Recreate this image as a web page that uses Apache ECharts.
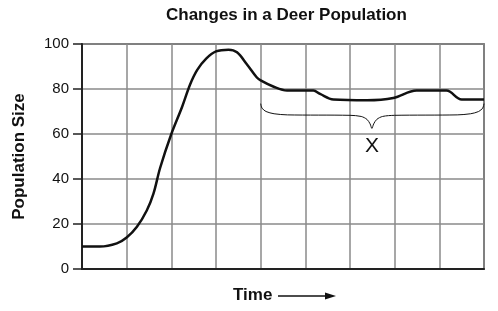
<!DOCTYPE html>
<html><head><meta charset="utf-8">
<script src="https://cdn.jsdelivr.net/npm/echarts@6/dist/echarts.min.js"></script>
<style>html,body{margin:0;padding:0;background:#fff}#c{width:498px;height:311px}</style>
</head><body><div id="c"></div>
<script>
// Time (grid columns) vs population size
const timeValues = [0, 0.4, 0.78, 1.0, 1.23, 1.45, 1.6, 1.75, 2.0, 2.24, 2.42, 2.58, 2.78, 3.0, 3.28, 3.47, 3.69, 3.91, 4.0, 4.28, 4.59, 5.18, 5.33, 5.63, 6.38, 6.97, 7.49, 8.16, 8.5, 9.0];
const populationValues = [10, 10, 11.4, 14, 18.8, 26, 33.5, 45, 60, 72, 82, 88.5, 93.5, 96.7, 97.5, 96.3, 91, 85.2, 83.8, 81.1, 79.3, 79.3, 77.8, 75.3, 75, 76, 79.3, 79.3, 75.3, 75.3];
// Brace marking region X
const braceX = [4.0, 4.03, 4.12, 4.3, 4.6, 6.0, 6.25, 6.38, 6.45, 6.49, 6.53, 6.6, 6.73, 7.0, 8.4, 8.7, 8.88, 8.97, 9.0];
const braceY = [73.5, 71.5, 70, 69, 68.5, 68.3, 67.8, 66.5, 64.5, 62.5, 64.5, 66.5, 67.8, 68.3, 68.5, 69, 70, 71.5, 73.5];
const yTicks = [0, 20, 40, 60, 80, 100];

const chart = echarts.init(document.getElementById('c'), null, {renderer: 'canvas'});
const font = 'Liberation Sans, Arial, sans-serif';
chart.setOption({
  animation: false,
  title: {text: 'Changes in a Deer Population', left: 161, top: 2,
    textStyle: {fontFamily: font, fontSize: 17, fontWeight: 'bold', color: '#111'}},
  grid: {left: 82, right: 14, top: 44, bottom: 42, show: true, borderColor: '#333', borderWidth: 1.5},
  xAxis: {type: 'value', min: 0, max: 9, interval: 1,
    axisLine: {show: true, lineStyle: {color: '#222', width: 2}},
    axisTick: {show: false}, axisLabel: {show: false},
    splitLine: {show: true, lineStyle: {color: '#8a8a8a', width: 1.5}}},
  yAxis: {type: 'value', min: 0, max: 100, interval: 20,
    name: 'Population Size', nameLocation: 'middle', nameGap: 54, nameRotate: 90,
    nameTextStyle: {fontFamily: font, fontSize: 17, fontWeight: 'bold', color: '#111'},
    axisLine: {show: true, lineStyle: {color: '#222', width: 2}},
    axisTick: {show: true, length: 9, lineStyle: {color: '#222', width: 1.5}},
    axisLabel: {fontFamily: font, fontSize: 15, color: '#111', margin: 13,
      formatter: v => yTicks.includes(v) ? String(v) : ''},
    splitLine: {show: true, lineStyle: {color: '#8a8a8a', width: 1.5}}},
  series: [
    {type: 'line', data: timeValues.map((t, i) => [t, populationValues[i]]), smooth: 0.35,
      symbol: 'none', lineStyle: {color: '#111', width: 2.5}, z: 5},
    {type: 'line', data: braceX.map((t, i) => [t, braceY[i]]), smooth: 0.3,
      symbol: 'none', lineStyle: {color: '#111', width: 1}, z: 4}
  ],
  graphic: [
    {type: 'text', left: 365, top: 136, style: {text: 'X', fontFamily: font, fontSize: 21, fill: '#111'}},
    {type: 'text', left: 233, top: 287, style: {text: 'Time', fontFamily: font, fontSize: 17, fontWeight: 'bold', fill: '#111'}},
    {type: 'line', shape: {x1: 278, y1: 296, x2: 330, y2: 296}, style: {stroke: '#111', lineWidth: 1.3}},
    {type: 'polygon', shape: {points: [[325, 292.5], [336, 296], [325, 299.5]]}, style: {fill: '#111'}}
  ]
});
</script></body></html>
